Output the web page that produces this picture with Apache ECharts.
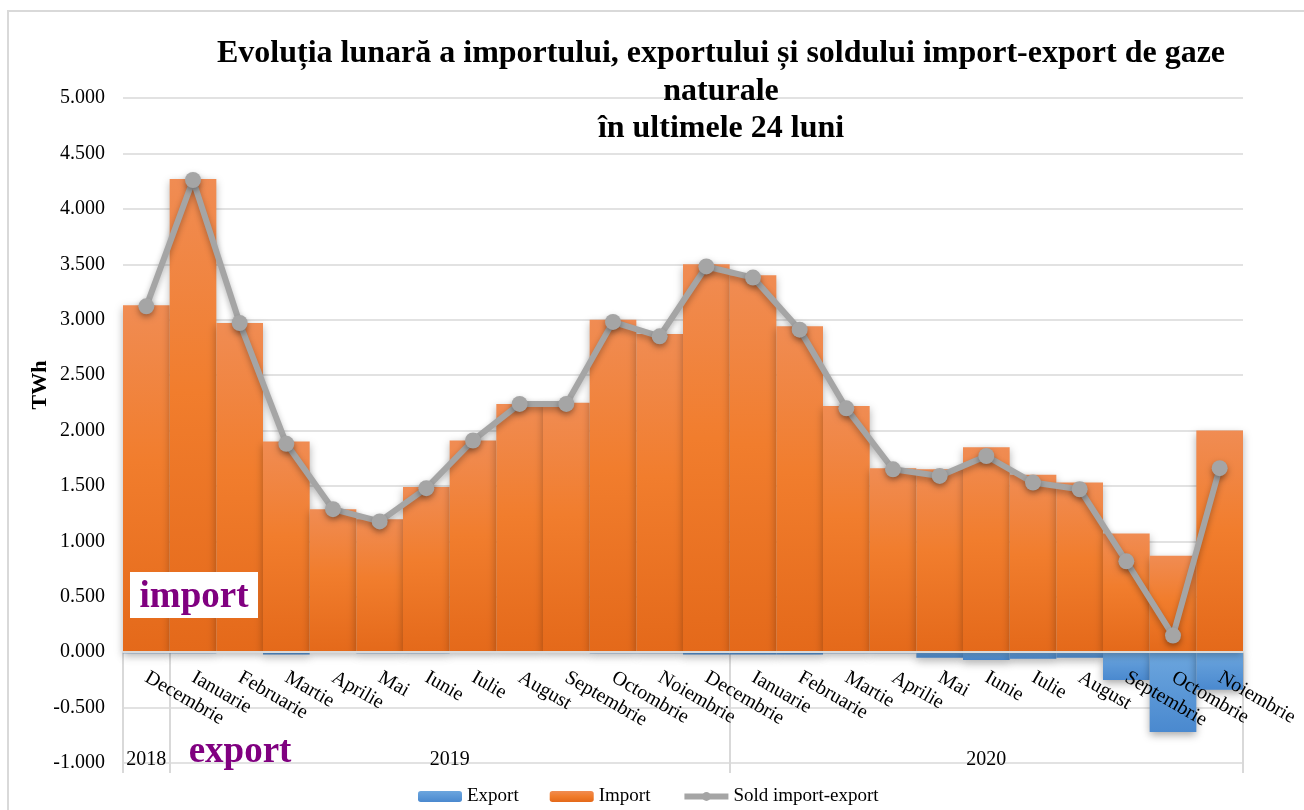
<!DOCTYPE html>
<html>
<head>
<meta charset="utf-8">
<script src="https://cdn.jsdelivr.net/npm/echarts@6/dist/echarts.min.js"></script>
<style>
  html, body { margin: 0; padding: 0; background: #ffffff; }
  #chart { width: 1304px; height: 810px; }
</style>
</head>
<body>
<div id="chart"></div>
<script>
// ---- data ----
const months = ['Decembrie','Ianuarie','Februarie','Martie','Aprilie','Mai','Iunie','Iulie','August','Septembrie','Octombrie','Noiembrie',
                'Decembrie','Ianuarie','Februarie','Martie','Aprilie','Mai','Iunie','Iulie','August','Septembrie','Octombrie','Noiembrie'];
const yearLabels = ['2018', '2019', '2020'];
const yearMonthCounts = [1, 12, 11];
const importVals = [3.13, 4.27, 2.97, 1.90, 1.29, 1.20, 1.49, 1.91, 2.24, 2.25, 3.00, 2.87,
                    3.50, 3.40, 2.94, 2.22, 1.66, 1.65, 1.85, 1.60, 1.53, 1.07, 0.87, 2.00];
const exportVals = [-0.01, -0.01, 0, -0.02, 0, -0.01, -0.01, 0, 0, 0, -0.01, -0.01,
                    -0.02, -0.02, -0.02, -0.01, -0.01, -0.05, -0.07, -0.06, -0.05, -0.25, -0.72, -0.34];
const soldVals   = [3.12, 4.26, 2.97, 1.88, 1.29, 1.18, 1.48, 1.91, 2.24, 2.24, 2.98, 2.85,
                    3.48, 3.38, 2.91, 2.20, 1.65, 1.59, 1.77, 1.53, 1.47, 0.82, 0.15, 1.66];
const yTicks = { min: -1, max: 5, interval: 0.5 };

// year group boundaries / centres (in month units)
const yearBounds = [0];
yearMonthCounts.forEach(c => yearBounds.push(yearBounds[yearBounds.length - 1] + c));
const yearCenters = yearMonthCounts.map((c, i) => yearBounds[i] + c / 2);

const FONT = "'Liberation Serif', 'Times New Roman', serif";
const W = 1304, H = 810;
const GRID = { left: 123, right: 61, top: 98, bottom: 47 };
const gridH = H - GRID.top - GRID.bottom;
// distance of the value 0 above the grid bottom
const zeroOffset = gridH * (0 - yTicks.min) / (yTicks.max - yTicks.min);

const chart = echarts.init(document.getElementById('chart'), null, { renderer: 'canvas', width: W, height: H });

const option = {
  backgroundColor: '#ffffff',
  animation: false,
  legend: {
    data: [
      'Export',
      'Import',
      { name: 'Sold import-export', lineStyle: { color: '#A5A5A5', width: 6 }, itemStyle: { color: '#A5A5A5' } }
    ],
    top: 782,
    left: 413,
    itemWidth: 44,
    itemHeight: 11,
    itemGap: 31,
    textStyle: { fontFamily: FONT, fontSize: 19, color: '#000' }
  },
  grid: Object.assign({ containLabel: false, outerBoundsMode: 'none' }, GRID),
  xAxis: [
    {
      type: 'category',
      data: months,
      z: 10,
      boundaryGap: true,
      position: 'bottom',
      offset: -zeroOffset,
      axisLine: { show: true, onZero: false, lineStyle: { color: '#D9D9D9', width: 2 } },
      axisTick: { show: false },
      axisLabel: { interval: 0, rotate: -30, margin: 24, fontFamily: FONT, fontSize: 20, color: '#000' },
      splitLine: { show: false }
    },
    {
      type: 'value',
      min: 0, max: 24,
      position: 'bottom',
      offset: 10,
      axisLine: { show: false, onZero: false },
      splitLine: { show: false },
      axisTick: { show: true, inside: true, length: 10 + zeroOffset, customValues: yearBounds,
                  lineStyle: { color: '#D9D9D9', width: 2 } },
      axisLabel: {
        inside: true, margin: 3, customValues: yearCenters,
        fontFamily: FONT, fontSize: 20, color: '#000',
        formatter: v => {
          const i = yearCenters.findIndex(c => Math.abs(c - v) < 1e-6);
          return i >= 0 ? yearLabels[i] : '';
        }
      }
    }
  ],
  yAxis: {
    type: 'value',
    min: yTicks.min, max: yTicks.max, interval: yTicks.interval,
    axisLine: { show: false, onZero: false },
    axisTick: { show: false },
    axisLabel: { margin: 18, fontFamily: FONT, fontSize: 20, color: '#000', formatter: v => v.toFixed(3) },
    splitLine: { show: true, lineStyle: { color: '#D9D9D9', width: 1.5 } }
  },
  series: [
    {
      name: 'Export', type: 'bar', data: exportVals,
      barGap: '-100%', barCategoryGap: '0%',
      itemStyle: {
        color: new echarts.graphic.LinearGradient(0, 0, 0, 1, [
          { offset: 0, color: '#6CA6DE' }, { offset: 1, color: '#4A89CF' }
        ]),
        shadowBlur: 8, shadowColor: 'rgba(0,0,0,0.35)', shadowOffsetY: 3
      }
    },
    {
      name: 'Import', type: 'bar', data: importVals,
      barGap: '-100%', barCategoryGap: '0%',
      itemStyle: {
        color: new echarts.graphic.LinearGradient(0, 0, 0, 1, [
          { offset: 0, color: '#F08C53' }, { offset: 0.45, color: '#F17D2D' }, { offset: 1, color: '#E4691A' }
        ]),
        shadowBlur: 8, shadowColor: 'rgba(0,0,0,0.3)', shadowOffsetY: 3
      }
    },
    {
      name: 'Sold import-export', type: 'line', data: soldVals,
      symbol: 'circle', symbolSize: 16,
      lineStyle: { color: '#A5A5A5', width: 6, shadowBlur: 6, shadowColor: 'rgba(0,0,0,0.3)', shadowOffsetY: 3 },
      itemStyle: { color: '#A5A5A5', shadowBlur: 6, shadowColor: 'rgba(0,0,0,0.35)', shadowOffsetY: 3 },
      z: 5
    }
  ],
  graphic: [
    { type: 'rect', shape: { x: 8, y: 11, width: 1310, height: 810 }, style: { fill: 'none', stroke: '#D9D9D9', lineWidth: 2 }, silent: true, z: -1 },
    { type: 'text', x: 721, y: 35, z: 20,
      style: {
        text: 'Evoluția lunară a importului, exportului și soldului import-export de gaze\nnaturale\nîn ultimele 24 luni',
        fontFamily: FONT, fontSize: 32, fontWeight: 'bold', fill: '#000', lineHeight: 37.5,
        align: 'center', verticalAlign: 'top'
      } },
    { type: 'text', x: 40, y: 385, rotation: Math.PI / 2,
      style: { text: 'TWh', fontFamily: FONT, fontSize: 22, fontWeight: 'bold', fill: '#000', align: 'center', verticalAlign: 'middle' } },
    { type: 'rect', shape: { x: 130, y: 572, width: 128, height: 46 }, style: { fill: '#ffffff' }, z: 20 },
    { type: 'text', x: 194, y: 597, z: 21,
      style: { text: 'import', fontFamily: FONT, fontSize: 37, fontWeight: 'bold', fill: '#800080', align: 'center', verticalAlign: 'middle' } },
    { type: 'text', x: 240, y: 752, z: 21,
      style: { text: 'export', fontFamily: FONT, fontSize: 37, fontWeight: 'bold', fill: '#800080', align: 'center', verticalAlign: 'middle' } }
  ]
};
chart.setOption(option);
</script>
</body>
</html>
